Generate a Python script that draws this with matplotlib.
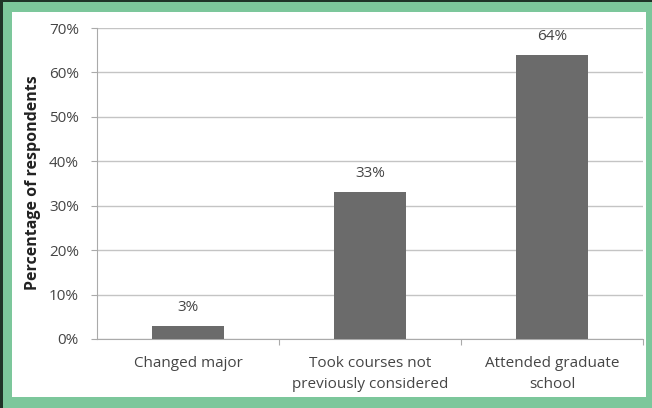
import matplotlib.pyplot as plt
from matplotlib.patches import Rectangle

# Data
categories = ['Changed major', 'Took courses not\npreviously considered', 'Attended graduate\nschool']
values = [3, 33, 64]
yticks = [0, 10, 20, 30, 40, 50, 60, 70]

plt.rcParams['font.family'] = ['Open Sans', 'DejaVu Sans']
text_col = '#454545'
W, H = 652, 408

fig = plt.figure(figsize=(W / 100, H / 100), dpi=100)
fig.patch.set_facecolor('#7cc79b')

# white panel inside the green frame, dark edge on top and left
fig.patches.append(Rectangle((12 / W, 11 / H), (646 - 12) / W, (396 - 11) / H,
                             transform=fig.transFigure, facecolor='white',
                             edgecolor='none', zorder=-2))
fig.patches.append(Rectangle((0, 1 - 2 / H), 1, 2 / H, transform=fig.transFigure,
                             facecolor='#1f3327', edgecolor='none', zorder=-1))
fig.patches.append(Rectangle((0, 0), 3 / W, 1, transform=fig.transFigure,
                             facecolor='#1f3327', edgecolor='none', zorder=-1))

ax = fig.add_axes([97 / W, 1 - 339 / H, 546 / W, 311 / H])
ax.set_facecolor('none')
x = range(len(categories))
bars = ax.bar(x, values, width=0.4, color='#6b6b6b', zorder=3)

ax.set_xlim(-0.5, len(categories) - 0.5)
ax.set_ylim(0, 70)
ax.set_yticks(yticks)
ax.set_yticklabels([f'{v}%' for v in yticks], color=text_col, fontsize=11)
ax.yaxis.grid(True, color='#c4c4c4', linewidth=1, zorder=0)
ax.tick_params(axis='y', length=4, color='#aaaaaa', pad=9)

ax.set_xticks([i + 0.5 for i in range(len(categories))])
ax.set_xticklabels([])
ax.set_xticks(list(x), minor=True)
ax.set_xticklabels(categories, minor=True, color=text_col, fontsize=11, linespacing=1.55)
ax.tick_params(axis='x', which='major', length=4, color='#aaaaaa')
ax.tick_params(axis='x', which='minor', length=0, pad=12)

for s in ['top', 'right']:
    ax.spines[s].set_visible(False)
ax.spines['left'].set_color('#aaaaaa')
ax.spines['bottom'].set_color('#aaaaaa')

for b, v in zip(bars, values):
    ax.annotate(f'{v}%', (b.get_x() + b.get_width() / 2, v), xytext=(0, 8),
                textcoords='offset points', ha='center', va='bottom',
                color=text_col, fontsize=11)

fig.text(33 / W, 1 - 183 / H, 'Percentage of respondents', rotation=90,
         ha='center', va='center', fontsize=11.5, fontweight='bold', color='#222222')

fig.savefig('out.png', dpi=100)
